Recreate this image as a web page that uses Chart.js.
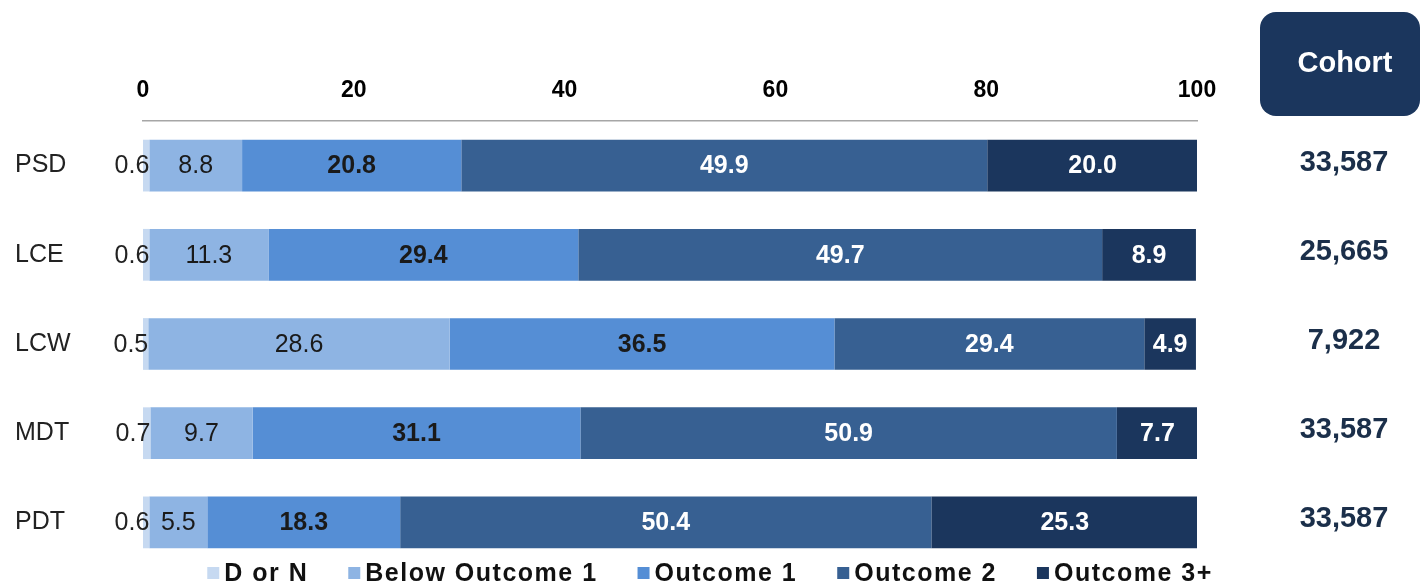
<!DOCTYPE html>
<html>
<head>
<meta charset="utf-8">
<script src="https://cdn.jsdelivr.net/npm/chart.js@4.4.1/dist/chart.umd.min.js"></script>
<style>
  html, body { margin: 0; padding: 0; background: #fff; }
  #wrap { width: 1421px; height: 585px; position: relative; }
</style>
</head>
<body>
<div id="wrap"><canvas id="chart" width="1421" height="585"></canvas></div>
<script>
// categorias e séries
const categorias = ['PSD', 'LCE', 'LCW', 'MDT', 'PDT']
const rotulosSeries = ['D or N', 'Below Outcome 1', 'Outcome 1', 'Outcome 2', 'Outcome 3+']
const dOrN = [0.6, 0.6, 0.5, 0.7, 0.6]
const abaixoOutcome1 = [8.8, 11.3, 28.6, 9.7, 5.5]
const outcome1 = [20.8, 29.4, 36.5, 31.1, 18.3]
const outcome2 = [49.9, 49.7, 29.4, 50.9, 50.4]
const outcome3 = [20.0, 8.9, 4.9, 7.7, 25.3]
const cohort = [33587, 25665, 7922, 33587, 33587]
const ticksX = [0, 20, 40, 60, 80, 100]

const cores = ['#c6d9f1', '#8eb4e3', '#558ed5', '#376092', '#1b365d']
const fonte = '"Liberation Sans", Arial, sans-serif'

const series = [dOrN, abaixoOutcome1, outcome1, outcome2, outcome3]

// rótulos dentro das barras
const pluginRotulos = {
  id: 'rotulos',
  afterDatasetsDraw(chart) {
    const ctx = chart.ctx
    ctx.save()
    ctx.textBaseline = 'middle'
    chart.data.datasets.forEach((ds, i) => {
      const meta = chart.getDatasetMeta(i)
      meta.data.forEach((el, j) => {
        const txt = ds.data[j].toFixed(1)
        if (i === 0) {
          ctx.font = '25px ' + fonte
          ctx.fillStyle = '#222'
          ctx.textAlign = 'right'
          ctx.fillText(txt, el.x, el.y + 1)
          return
        }
        ctx.textAlign = 'center'
        ctx.font = (i >= 2 ? 'bold ' : '') + '25px ' + fonte
        ctx.fillStyle = i >= 3 ? '#fff' : '#1a1a1a'
        ctx.fillText(txt, (el.x + el.base) / 2, el.y + 1)
      })
    })
    ctx.restore()
  },
}

// coluna "Cohort" e legenda
const pluginExtras = {
  id: 'extras',
  afterDraw(chart) {
    const ctx = chart.ctx
    const y = chart.scales.y
    ctx.save()
    // caixa do cabeçalho
    ctx.fillStyle = '#1b365d'
    ctx.beginPath()
    ctx.roundRect(1260, 12, 160, 104, 16)
    ctx.fill()
    ctx.fillStyle = '#fff'
    ctx.font = 'bold 29px ' + fonte
    ctx.textAlign = 'center'
    ctx.textBaseline = 'middle'
    ctx.fillText('Cohort', 1345, 64)
    ctx.fillStyle = '#1b2f4a'
    cohort.forEach((v, i) => {
      ctx.fillText(v.toLocaleString('en-US'), 1344, y.getPixelForValue(i) - 3)
    })

    // legenda
    ctx.font = 'bold 25px ' + fonte
    ctx.letterSpacing = '1.5px'
    const quad = 12, gap = 5, espaco = 40
    const larguras = rotulosSeries.map(t => ctx.measureText(t).width)
    const total = larguras.reduce((a, b) => a + b + quad + gap, 0) + espaco * (rotulosSeries.length - 1)
    let x = 710 - total / 2
    const ly = 573
    ctx.textAlign = 'left'
    rotulosSeries.forEach((t, i) => {
      ctx.fillStyle = cores[i]
      ctx.fillRect(x, ly - quad / 2, quad, quad)
      x += quad + gap
      ctx.fillStyle = '#111'
      ctx.fillText(t, x, ly + 1)
      x += larguras[i] + espaco
    })
    ctx.restore()
  },
}

new Chart(document.getElementById('chart'), {
  type: 'bar',
  data: {
    labels: categorias,
    datasets: series.map((d, i) => ({
      label: rotulosSeries[i],
      data: d,
      backgroundColor: cores[i],
      borderWidth: 0,
      categoryPercentage: 0.58,
      barPercentage: 1,
    })),
  },
  options: {
    indexAxis: 'y',
    responsive: false,
    animation: false,
    layout: { padding: { left: 15, right: 224, top: 0, bottom: 14 } },
    plugins: { legend: { display: false }, tooltip: { enabled: false } },
    scales: {
      x: {
        position: 'top',
        stacked: true,
        min: 0,
        max: 100,
        afterBuildTicks: s => { s.ticks = ticksX.map(v => ({ value: v })) },
        afterFit: s => { s.height = 121 },
        grid: { display: false },
        border: { display: true, color: '#a6a6a6', width: 1.5 },
        ticks: { color: '#000', padding: 9, font: { family: fonte, size: 23, weight: 'bold' } },
      },
      y: {
        stacked: true,
        afterFit: s => { s.width = 128 },
        grid: { display: false },
        border: { display: false },
        ticks: { crossAlign: 'far', color: '#222', font: { family: fonte, size: 25 } },
      },
    },
  },
  plugins: [pluginRotulos, pluginExtras],
})
</script>
</body>
</html>
